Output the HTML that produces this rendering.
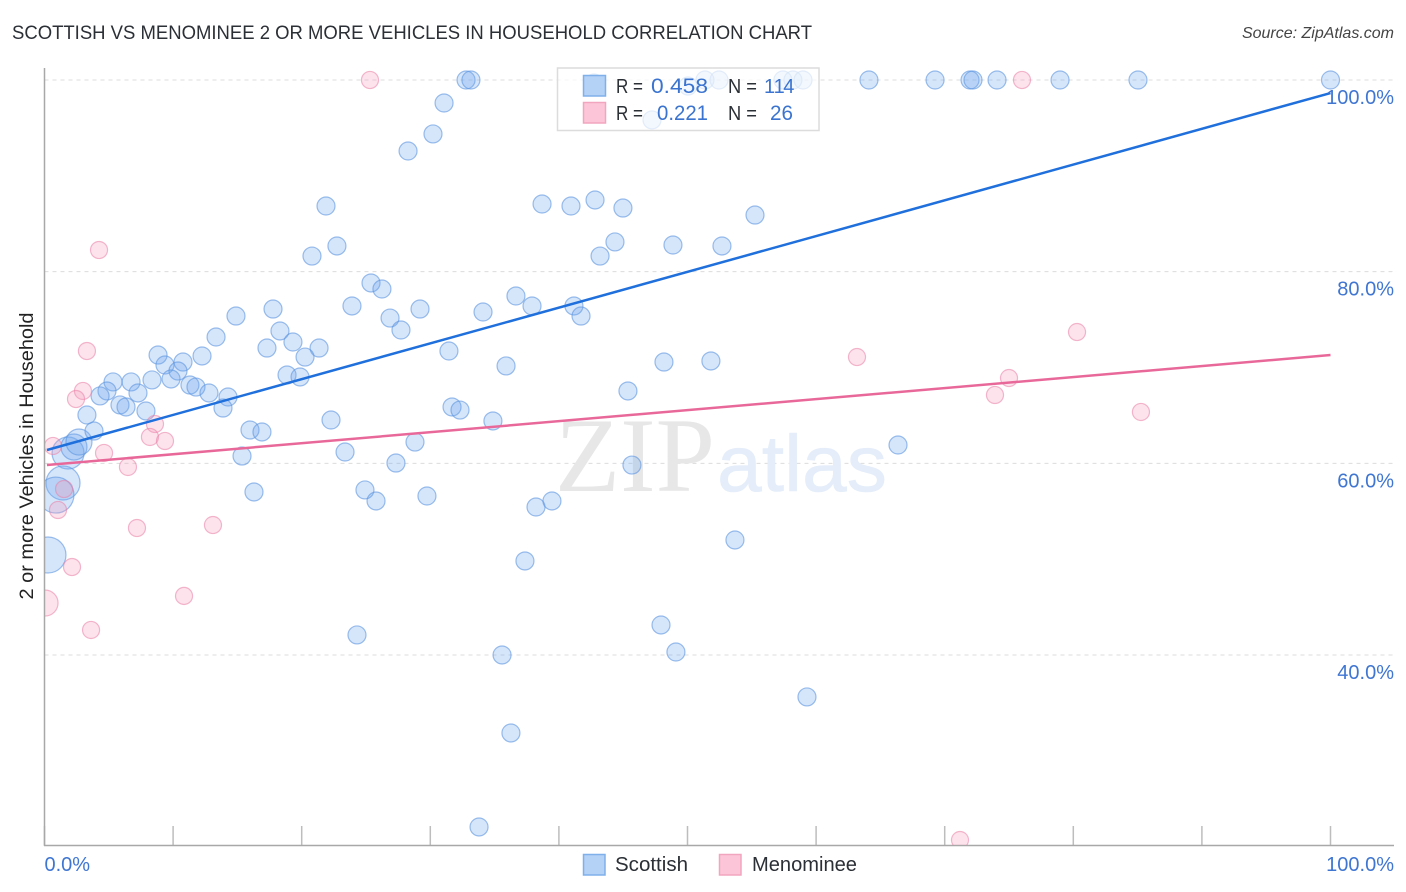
<!DOCTYPE html>
<html lang="en">
<head>
<meta charset="utf-8">
<title>Scottish vs Menominee correlation chart</title>
<style>
  html, body { margin: 0; padding: 0; background: #fff; }
  body { width: 1406px; height: 892px; overflow: hidden; }
  svg { display: block; font-family: "Liberation Sans", sans-serif; }
</style>
</head>
<body>
<svg id="chart" xmlns="http://www.w3.org/2000/svg" width="1406" height="892" viewBox="0 0 1406 892">
  <defs>
    <clipPath id="plot-clip"><rect x="45" y="60" width="1349" height="785"/></clipPath>
  </defs>
  <rect x="0" y="0" width="1406" height="892" fill="#ffffff"/>
  <text x="12" y="39" font-size="19" fill="#2b2f36" textLength="800" lengthAdjust="spacingAndGlyphs">SCOTTISH VS MENOMINEE 2 OR MORE VEHICLES IN HOUSEHOLD CORRELATION CHART</text>
  <text x="1394" y="38" font-size="16" font-style="italic" fill="#444" text-anchor="end">Source: ZipAtlas.com</text>
  <text transform="translate(33,456) rotate(-90)" font-size="19" fill="#222" text-anchor="middle" textLength="287" lengthAdjust="spacingAndGlyphs">2 or more Vehicles in Household</text>
  <g id="grid"></g>
  <g>
    <text x="555" y="491" font-family="'Liberation Serif', serif" font-size="106" fill="#e7e7e7" textLength="160" lengthAdjust="spacingAndGlyphs">ZIP</text>
    <text x="717" y="491" font-family="'Liberation Sans', sans-serif" font-size="80" fill="#e4edf9" stroke="#e4edf9" stroke-width="0.6" textLength="170" lengthAdjust="spacingAndGlyphs">atlas</text>
  </g>
  <g id="axes"></g>
  <g id="points-scottish" clip-path="url(#plot-clip)"></g>
  <g id="points-menominee" clip-path="url(#plot-clip)"></g>
  <g id="trends"></g>
  <g id="y-labels"></g>
  <g id="x-labels"></g>

  <g>
    <rect x="557.5" y="68" width="261.5" height="62.5" fill="#ffffff" fill-opacity="0.72" stroke="#dcdcdc" stroke-width="1.5"/>
    <rect x="583.5" y="75.5" width="22" height="20.5" fill="#b4d1f6" stroke="#7fb0ea" stroke-width="1.5"/>
    <rect x="583.5" y="102.5" width="22" height="20.5" fill="#fcc6d8" stroke="#f2a5bf" stroke-width="1.5"/>
    <text x="616" y="93" font-size="20" fill="#2b2f36" textLength="27" lengthAdjust="spacingAndGlyphs">R =</text>
    <text x="651" y="93" font-size="21" fill="#3a74d0" textLength="57" lengthAdjust="spacingAndGlyphs">0.458</text>
    <text x="728" y="93" font-size="20" fill="#2b2f36" textLength="29" lengthAdjust="spacingAndGlyphs">N =</text>
    <text x="764" y="93" font-size="20" fill="#3a74d0" letter-spacing="-1.5" style="font-kerning:none">114</text>
    <text x="616" y="120" font-size="20" fill="#2b2f36" textLength="27" lengthAdjust="spacingAndGlyphs">R =</text>
    <text x="657" y="120" font-size="21" fill="#3a74d0" textLength="51" lengthAdjust="spacingAndGlyphs">0.221</text>
    <text x="728" y="120" font-size="20" fill="#2b2f36" textLength="29" lengthAdjust="spacingAndGlyphs">N =</text>
    <text x="770" y="120" font-size="21" fill="#3a74d0" textLength="23" lengthAdjust="spacingAndGlyphs">26</text>
  </g>

  <g>
    <g>
      <rect x="583.5" y="854.5" width="21.5" height="20.5" fill="#b4d1f6" stroke="#7fb0ea" stroke-width="1.5"/>
      <text x="615" y="871" font-size="20" fill="#2b2f36" textLength="73" lengthAdjust="spacingAndGlyphs">Scottish</text>
    </g>
    <g>
      <rect x="719.5" y="854.5" width="21.5" height="20.5" fill="#fcc6d8" stroke="#f2a5bf" stroke-width="1.5"/>
      <text x="752" y="871" font-size="20" fill="#2b2f36" textLength="105" lengthAdjust="spacingAndGlyphs">Menominee</text>
    </g>
  </g>
</svg>
<script>
const scottishX = [1.83,2.29,2.68,1.44,0.89,0.27,
  32.78,33.16,42.73,50.04,51.36,52.45,57.42,58.20,58.98,64.11,69.25,71.97,72.20,74.07,78.97,85.03,100,
  47.24,31.07,30.21,28.27,21.89,38.69,40.94,42.81,44.98,55.25,44.36,48.87,52.68,43.20,
  22.74,20.80,25.39,26.24,17.77,14.89,23.91,18.31,26.87,27.72,
  29.20,34.10,36.66,37.91,41.17,41.72,13.34,19.32,17.30,21.35,
  8.83,12.25,10.77,20.26,9.37,10.38,18.86,19.87,9.84,8.36,
  6.73,5.33,11.31,11.78,12.79,14.27,13.88,7.27,4.86,4.32,
  5.87,6.34,7.89,3.30,3.85,31.45,35.89,48.17,51.82,45.37,
  31.69,32.31,22.28,34.87,15.98,16.91,28.81,23.37,15.36,66.37,
  27.33,45.68,16.29,24.92,25.78,29.74,38.22,39.46,53.69,37.36,
  47.94,49.10,24.30,35.58,59.29,36.27,33.79];
const scottishY = [61.08,61.70,62.22,57.95,56.69,50.43,
  100,100,99.69,99.37,100,100,100,100,100,100,100,100,100,100,100,100,100,
  95.83,97.60,94.37,92.59,86.85,87.06,86.85,87.48,86.64,85.91,83.10,82.78,82.68,81.63,
  82.68,81.63,78.82,78.19,76.10,75.37,76.42,73.81,75.16,73.91,
  76.10,75.79,77.46,76.42,76.42,75.37,73.18,72.66,72.03,72.03,
  71.30,71.20,70.57,71.09,70.26,69.63,69.22,69.01,68.80,68.70,
  68.49,68.49,68.17,67.96,67.34,66.92,65.77,67.34,67.55,67.03,
  66.09,65.88,65.46,65.04,63.37,71.72,70.16,70.57,70.68,67.55,
  65.88,65.56,64.52,64.42,63.48,63.27,62.22,61.18,60.76,61.91,
  60.03,59.82,57.01,57.22,56.07,56.59,55.44,56.07,52.00,49.81,
  43.13,40.31,42.09,40.00,35.62,31.86,22.05];
const scottishWeight = [3.16,2.09,2.09,3.57,4,4,
  1,1,1,1,1,1,1,1,1,1,1,1,1,1,1,1,1,1,
  1,1,1,1,1,1,1,1,1,1,1,1,1,1,1,1,1,1,
  1,1,1,1,1,1,1,1,1,1,1,1,1,1,1,1,1,1,
  1,1,1,1,1,1,1,1,1,1,1,1,1,1,1,1,1,1,
  1,1,1,1,1,1,1,1,1,1,1,1,1,1,1,1,1,1,
  1,1,1,1,1,1,1,1,1,1,1,1,1,1,1,1,1,1];
const menomineeX = [25.31,76.01,4.24,3.30,2.99,2.45,0.66,4.63,6.49,8.59,8.20,9.37,1.52,1.05,7.19,13.10,2.14,10.85,3.62,0.04,63.18,80.29,75.00,73.91,85.26,71.19];
const menomineeY = [100,100,82.26,71.72,67.55,66.71,61.81,61.08,59.62,64.10,62.75,62.33,57.32,55.13,53.25,53.56,49.18,46.16,42.61,45.42,71.09,73.70,68.90,67.13,65.36,20.69];
const menomineeWeight = [0.9,0.9,0.9,0.9,0.9,0.9,0.9,0.9,0.9,0.9,0.9,0.9,0.9,0.9,0.9,0.9,0.9,0.9,0.9,2.1,0.9,0.9,0.9,0.9,0.9,0.9];
const scottishTrendX = [0.19,100];
const scottishTrendY = [61.39,98.64];
const menomineeTrendX = [0.19,100];
const menomineeTrendY = [59.82,71.30];
const yTicks = [100,80,60,40];
const yTickLabels = ["100.0%","80.0%","60.0%","40.0%"];
const xTicks = [0,10,20,30,40,50,60,70,80,90,100];
const xEndTicks = [0,100];
const xEndLabels = ["0.0%","100.0%"];

const NS = "http://www.w3.org/2000/svg";
const sx = v => 44.5 + v * 12.86;
const sy = v => 80 + (100 - v) * 9.583;
const sr = w => 9 * Math.sqrt(w);

function make(tag, parentId, attrs) {
  const el = document.createElementNS(NS, tag);
  for (const k in attrs) el.setAttribute(k, attrs[k]);
  document.getElementById(parentId).appendChild(el);
  return el;
}

yTicks.forEach(t => {
  const line = make("line", "grid", {x1: 44.5, x2: 1394, y1: sy(t), y2: sy(t), stroke: "#dcdcdc", "stroke-width": 1, "stroke-dasharray": "4 4"});
  
  
});

xTicks.forEach(t => {
  const tick = make("line", "axes", {x1: sx(t), x2: sx(t), y1: 826, y2: 845, stroke: "#bdbdbd", "stroke-width": 1.5});
  
  
});
const yAxis = make("line", "axes", {x1: 44.5, x2: 44.5, y1: 68, y2: 846, stroke: "#a8a8a8", "stroke-width": 1.5});


const xAxis = make("line", "axes", {x1: 44, x2: 1394, y1: 845.5, y2: 845.5, stroke: "#a8a8a8", "stroke-width": 1.5});



scottishX.forEach((v, i) => {
  const c = make("circle", "points-scottish", {cx: sx(v), cy: sy(scottishY[i]), r: sr(scottishWeight[i]), fill: "#6ea6ee", "fill-opacity": 0.29, stroke: "#5b94e0", "stroke-opacity": 0.6, "stroke-width": 1.2});
  
  
});
menomineeX.forEach((v, i) => {
  const c = make("circle", "points-menominee", {cx: sx(v), cy: sy(menomineeY[i]), r: sr(menomineeWeight[i]), fill: "#f59abb", "fill-opacity": 0.28, stroke: "#ea7fa6", "stroke-opacity": 0.55, "stroke-width": 1.2});
  
  
});

const blueTrend = make("line", "trends", {x1: sx(scottishTrendX[0]), y1: sy(scottishTrendY[0]), x2: sx(scottishTrendX[1]), y2: sy(scottishTrendY[1]), stroke: "#1f6fdc", "stroke-width": 2.5});


const pinkTrend = make("line", "trends", {x1: sx(menomineeTrendX[0]), y1: sy(menomineeTrendY[0]), x2: sx(menomineeTrendX[1]), y2: sy(menomineeTrendY[1]), stroke: "#e9689a", "stroke-width": 2.5});



yTicks.forEach((t, i) => {
  const label = make("text", "y-labels", {x: 1394, y: sy(t) + 24, "font-size": 20, fill: "#3f76d2", "text-anchor": "end"});
  
  
  label.textContent = yTickLabels[i];
});
xEndTicks.forEach((t, i) => {
  const label = make("text", "x-labels", {x: t === 0 ? sx(t) : 1394, y: 871, "font-size": 20, fill: "#3f76d2", "text-anchor": t === 0 ? "start" : "end"});
  
  
  label.textContent = xEndLabels[i];
});
</script>
</body>
</html>
